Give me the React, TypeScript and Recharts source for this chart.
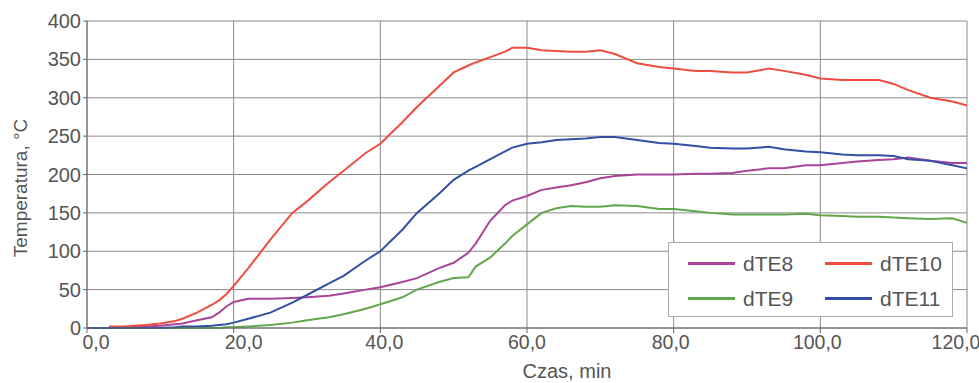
import React from 'react';
import {
	CartesianGrid,
	Legend,
	Line,
	LineChart,
	XAxis,
	YAxis,
} from 'recharts';

const time = [
	0, 3, 5, 8, 10, 12, 13, 15, 17, 18, 19, 20, 22, 25, 28, 30, 33, 35, 38, 40,
	43, 45, 48, 50, 52, 53, 55, 57, 58, 60, 62, 64, 66, 68, 70, 72, 75, 78, 80,
	83, 85, 88, 90, 93, 95, 98, 100, 103, 105, 108, 110, 112, 115, 118, 120,
];

const dTE8 = [
	0, 0, 1, 2, 3, 5, 6, 10, 14, 20, 28, 34, 38, 38, 39, 40, 42, 45, 50, 53, 60,
	65, 78, 85, 98, 110, 140, 160, 166, 172, 180, 183, 186, 190, 195, 198, 200,
	200, 200, 201, 201, 202, 205, 208, 208, 212, 212, 215, 217, 219, 220, 222,
	218, 215, 215,
];

const dTE9 = [
	0, 0, 0, 0, 0, 0, 0, 0, 0, 0, 1, 1, 2, 4, 7, 10, 14, 18, 25, 31, 40, 50, 60,
	65, 66, 80, 92, 110, 120, 135, 150, 156, 159, 158, 158, 160, 159, 155, 155,
	152, 150, 148, 148, 148, 148, 149, 147, 146, 145, 145, 144, 143, 142, 143,
	137,
];

const dTE10 = [
	null, 2, 2, 4, 6, 9, 12, 20, 30, 36, 44, 55, 78, 115, 150, 165, 190, 205,
	228, 240, 268, 288, 315, 333, 342, 346, 353, 360, 365, 365, 362, 361, 360,
	360, 362, 357, 345, 340, 338, 335, 335, 333, 333, 338, 335, 330, 325, 323,
	323, 323, 318, 310, 300, 295, 290,
];

const dTE11 = [
	0, 0, 0, 0, 0, 1, 2, 2, 3, 4, 5, 7, 12, 20, 33, 43, 58, 68, 88, 100, 128,
	150, 175, 193, 205, 210, 220, 230, 235, 240, 242, 245, 246, 247, 249, 249,
	245, 241, 240, 237, 235, 234, 234, 236, 233, 230, 229, 226, 225, 225, 224,
	220, 218, 212, 208,
];

const xTicks = [0, 20, 40, 60, 80, 100, 120];
const yTicks = [0, 50, 100, 150, 200, 250, 300, 350, 400];

// in the original the x labels sit a bit off their tick marks
const xLabelShift = [9, 10, 4, 0, -3, -3, -11];

// legend order: row by row, as in the original figure
const series = [
	{ key: 'dTE8', color: '#a9449a' },
	{ key: 'dTE10', color: '#ee4d40' },
	{ key: 'dTE9', color: '#62a84a' },
	{ key: 'dTE11', color: '#3150a3' },
];

const data = time.map((t, i) => ({
	t,
	dTE8: dTE8[i],
	dTE9: dTE9[i],
	dTE10: dTE10[i],
	dTE11: dTE11[i],
}));

const textColor = '#555';
const font = 'Liberation Sans, Arial, sans-serif';

const XTick = (props: any) => {
	const { x, y, payload, index } = props;
	return (
		<text
			x={x + (xLabelShift[index] ?? 0)}
			y={y}
			dy="0.71em"
			textAnchor="middle"
			fill={textColor}
			fontSize={19.5}
		>
			{payload.value.toFixed(1).replace('.', ',')}
		</text>
	);
};

const LegendBox = () => (
	<div
		style={{
			width: 285,
			height: 75,
			boxSizing: 'border-box',
			border: '1px solid #aaa',
			background: '#fff',
			display: 'grid',
			gridTemplateColumns: '137px 128px',
			gridTemplateRows: '35px 35px',
			paddingTop: 3,
			paddingLeft: 19,
			fontFamily: font,
			fontSize: 21,
			color: textColor,
		}}
	>
		{series.map((s) => (
			<div key={s.key} style={{ display: 'flex', alignItems: 'center' }}>
				<span
					style={{
						display: 'inline-block',
						width: 47,
						height: 3,
						background: s.color,
						marginRight: 8,
					}}
				/>
				{s.key}
			</div>
		))}
	</div>
);

export default function App() {
	return (
		<div style={{ position: 'absolute', left: 0, top: 0 }}>
			<LineChart
				width={979}
				height={383}
				data={data}
				margin={{ top: 21, right: 12, bottom: 25, left: 27 }}
				style={{ fontFamily: font }}
			>
				<CartesianGrid stroke="#8a8a8a" strokeWidth={1} />
				<XAxis
					dataKey="t"
					type="number"
					domain={[0, 120]}
					ticks={xTicks}
					stroke="#666"
					tick={<XTick />}
					tickSize={5}
					tickMargin={2}
					height={30}
					label={{
						content: () => (
							<text
								x={567}
								y={378}
								textAnchor="middle"
								fill={textColor}
								fontSize={20}
							>
								Czas, min
							</text>
						),
					}}
				/>
				<YAxis
					domain={[0, 400]}
					ticks={yTicks}
					width={60}
					stroke="#666"
					tick={{ fill: textColor, fontSize: 20 }}
					tickSize={4}
					tickMargin={2}
					label={{
						content: () => (
							<text
								x={20}
								y={188}
								transform="rotate(-90 20 188)"
								textAnchor="middle"
								dominantBaseline="central"
								fill={textColor}
								fontSize={19}
							>
								Temperatura, °C
							</text>
						),
					}}
				/>
				<Legend
					layout="horizontal"
					verticalAlign="middle"
					content={() => <LegendBox />}
					wrapperStyle={{ left: 668, top: 242, width: 285, height: 75 }}
				/>
				{[...series]
					.sort((a, b) => a.key.localeCompare(b.key, 'en', { numeric: true }))
					.map((s) => (
						<Line
							key={s.key}
							type="linear"
							dataKey={s.key}
							stroke={s.color}
							strokeWidth={2}
							dot={false}
							isAnimationActive={false}
							connectNulls={false}
						/>
					))}
			</LineChart>
		</div>
	);
}
